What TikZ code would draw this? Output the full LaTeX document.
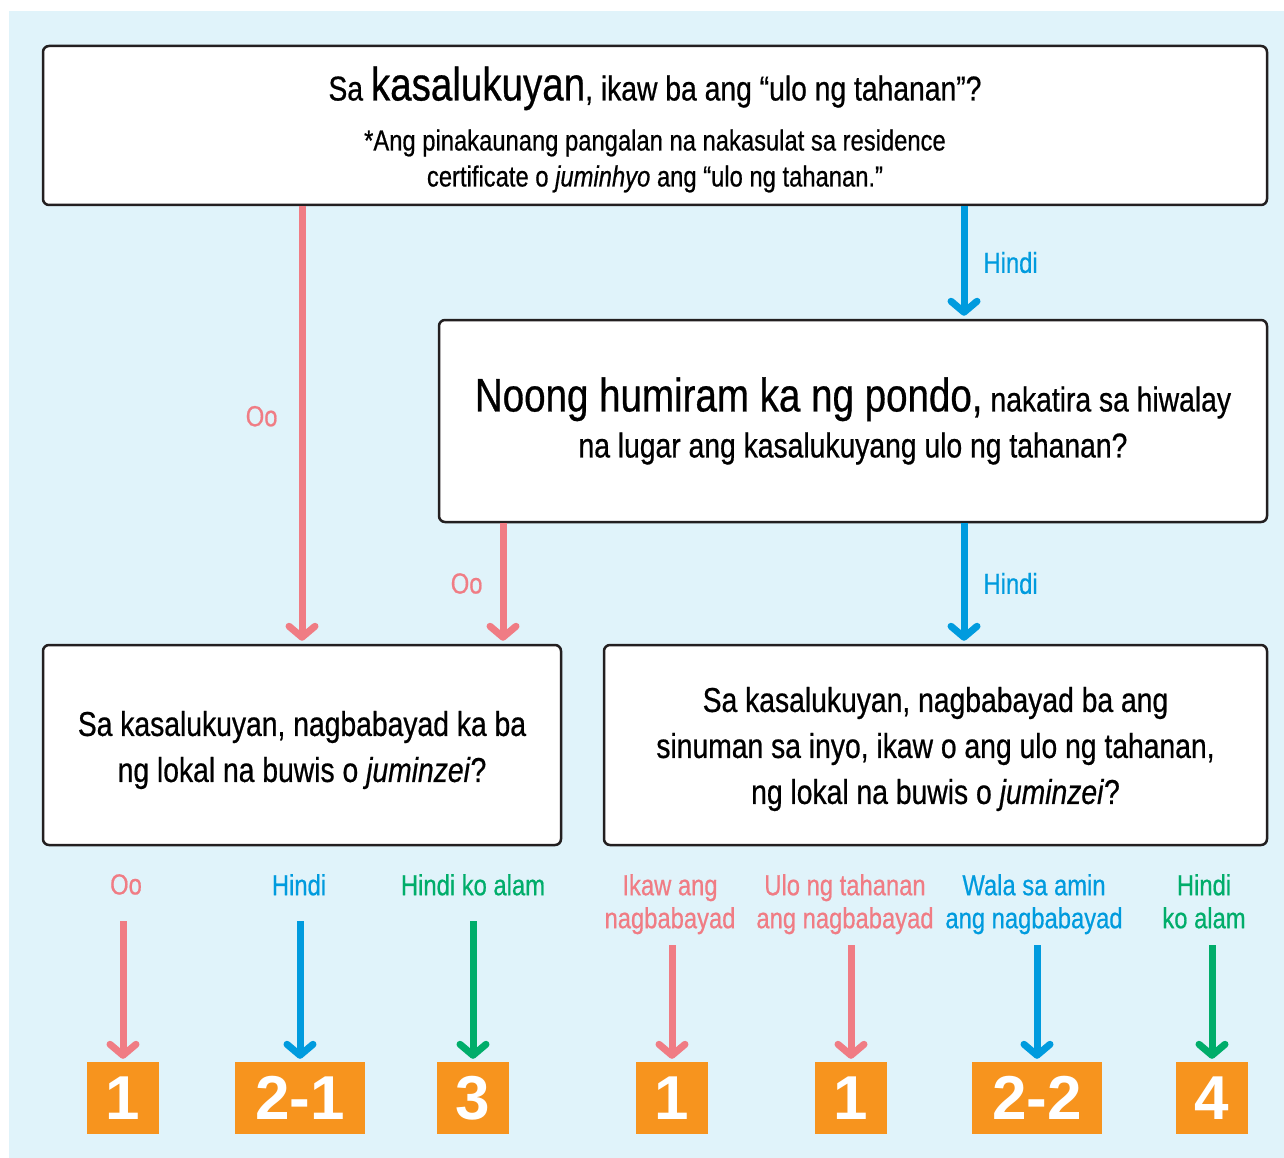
\documentclass[tikz,border=0pt]{standalone}
\usepackage{fontspec}
\setmainfont{Liberation Sans}[FakeStretch=0.82,FakeBold=0.6]
\newfontfamily\numfont{Liberation Sans}
\usetikzlibrary{arrows.meta}

\definecolor{bgblue}{RGB}{224,243,250}
\definecolor{ooPink}{RGB}{240,124,132}
\definecolor{hindiBlue}{RGB}{0,155,222}
\definecolor{alamGreen}{RGB}{0,173,106}
\definecolor{numOrange}{RGB}{247,148,30}
\definecolor{boxLine}{RGB}{35,31,32}

\newcommand{\sizeM}{\fontsize{34.5}{46}\selectfont}
\newcommand{\sizeL}{\fontsize{47}{52}\selectfont}
\newcommand{\sizeS}{\fontsize{29}{33}\selectfont}

\begin{document}
\begin{tikzpicture}[x=1pt,y=-1pt,
  qbox/.style={draw=boxLine,line width=2.5pt,rounded corners=6pt,fill=white,
    align=center,inner sep=0pt,font=\sizeM},
  numbox/.style={fill=numOrange,text=white,minimum width=72pt,minimum height=72pt,
    inner sep=0pt,font=\numfont\bfseries\fontsize{62}{62}\selectfont},
  arr/.style={line width=7pt,-{Straight Barb[length=11pt,width=26pt,round]},shorten >=3pt},
  arrOo/.style={arr,draw=ooPink},
  arrHindi/.style={arr,draw=hindiBlue},
  arrAlam/.style={arr,draw=alamGreen},
  txt/.style={align=center,inner sep=0pt,font=\sizeS},
  txtOo/.style={txt,text=ooPink},
  txtHindi/.style={txt,text=hindiBlue},
  txtAlam/.style={txt,text=alamGreen}]

\useasboundingbox (0,0) rectangle (1284,1158);
\fill[bgblue] (9,11) rectangle (1284,1158);

%Fragen
\node[qbox,minimum width=1224pt,minimum height=159pt,font=\fontsize{29}{36}\selectfont] (q1) at (655,125.5)
  {\rule{0pt}{42pt}{\sizeM Sa {\sizeL kasalukuyan}, ikaw ba ang “ulo ng tahanan”?}\\[14pt]
   *Ang pinakaunang pangalan na nakasulat sa residence\\
   certificate o \textit{juminhyo} ang “ulo ng tahanan.”};
\node[qbox,minimum width=828pt,minimum height=202pt] (q2) at (853,421)
  {{\sizeL Noong humiram ka ng pondo,} nakatira sa hiwalay\\
   na lugar ang kasalukuyang ulo ng tahanan?};
\node[qbox,minimum width=518pt,minimum height=200pt] (q3) at (302,745)
  {\rule{0pt}{35pt}Sa kasalukuyan, nagbabayad ka ba\\
   ng lokal na buwis o \textit{juminzei}?};
\node[qbox,minimum width=663pt,minimum height=200pt] (q4) at (935.5,745)
  {\rule{0pt}{33pt}Sa kasalukuyan, nagbabayad ba ang\\
   sinuman sa inyo, ikaw o ang ulo ng tahanan,\\
   ng lokal na buwis o \textit{juminzei}?};

\coordinate (hx) at (964,0);
\coordinate (ox) at (503,0);

\draw[arrOo] (q3.north |- q1.south) -- (q3.north) node[txtOo,pos=0.48,left=21pt] (oo1) {Oo};
\draw[arrHindi] (hx |- q1.south) -- (hx |- q2.north) node[txtHindi,midway,right=16pt] (hi1) {Hindi};
\draw[arrOo] (ox |- q2.south) -- (ox |- q3.north) node[txtOo,midway,left=17pt] (oo2) {Oo};
\draw[arrHindi] (hx |- q2.south) -- (hx |- q4.north) node[txtHindi,midway,right=16pt] (hi2) {Hindi};

%Antworten
\node[txtOo,anchor=north] (l1) at (126,874) {Oo};
\node[txtHindi,anchor=north] (l2) at (299,874) {Hindi};
\node[txtAlam,anchor=north] (l3) at (473,874) {Hindi ko alam};
\node[txtOo,anchor=north] (l4) at (670,874) {Ikaw ang\\nagbabayad};
\node[txtOo,anchor=north] (l5) at (845,874) {Ulo ng tahanan\\ang nagbabayad};
\node[txtHindi,anchor=north] (l6) at (1034,874) {Wala sa amin\\ang nagbabayad};
\node[txtAlam,anchor=north] (l7) at (1204,874) {Hindi\\ko alam};

\node[numbox] (n1) at (123,1098) {1};
\node[numbox,minimum width=130pt] (n2) at (300,1098) {2-1};
\node[numbox] (n3) at (473,1098) {3};
\node[numbox] (n4) at (672,1098) {1};
\node[numbox] (n5) at (851,1098) {1};
\node[numbox,minimum width=130pt] (n6) at (1037,1098) {2-2};
\node[numbox] (n7) at (1212,1098) {4};

\coordinate (s1) at (0,921);
\coordinate (s2) at (0,945);

\draw[arrOo] (n1.north |- s1) -- (n1.north);
\draw[arrHindi] (n2.north |- s1) -- (n2.north);
\draw[arrAlam] (n3.north |- s1) -- (n3.north);
\draw[arrOo] (n4.north |- s2) -- (n4.north);
\draw[arrOo] (n5.north |- s2) -- (n5.north);
\draw[arrHindi] (n6.north |- s2) -- (n6.north);
\draw[arrAlam] (n7.north |- s2) -- (n7.north);

\end{tikzpicture}
\end{document}
